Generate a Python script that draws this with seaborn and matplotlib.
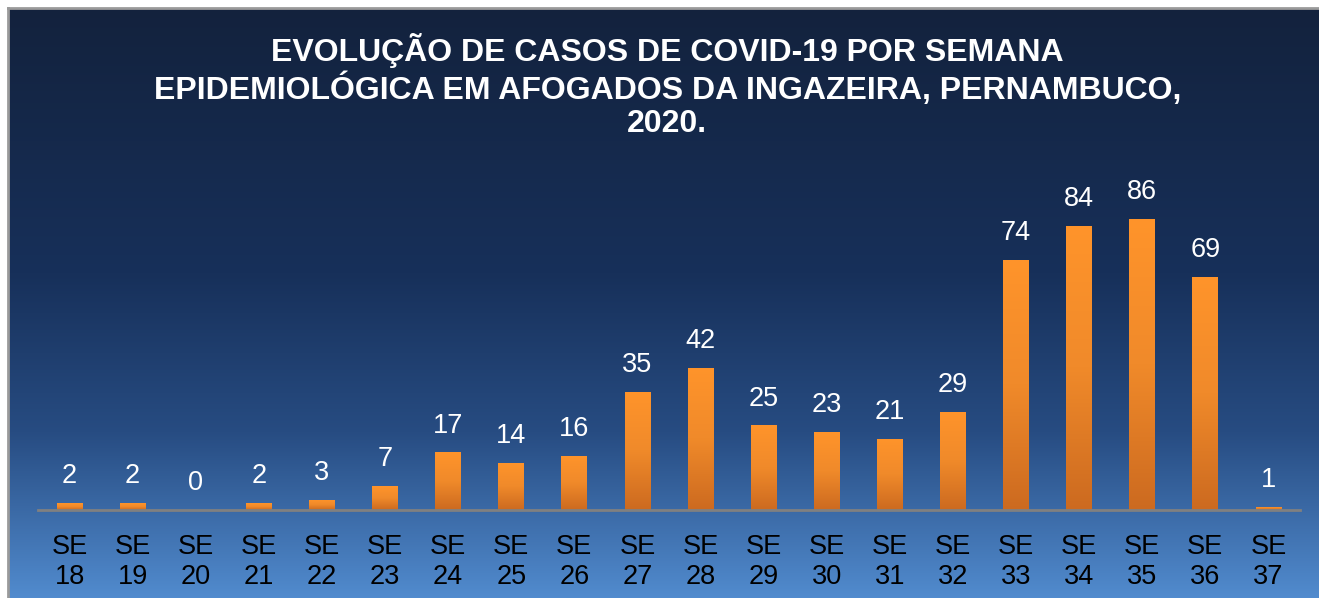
import numpy as np
import pandas as pd
import matplotlib
matplotlib.use('Agg')
import matplotlib.pyplot as plt
from matplotlib.colors import LinearSegmentedColormap
import seaborn as sns

weeks = ['18', '19', '20', '21', '22', '23', '24', '25', '26', '27',
         '28', '29', '30', '31', '32', '33', '34', '35', '36', '37']
cases = [2, 2, 0, 2, 3, 7, 17, 14, 16, 35, 42, 25, 23, 21, 29, 74, 84, 86, 69, 1]
title = 'EVOLUÇÃO DE CASOS DE COVID-19 POR SEMANA\nEPIDEMIOLÓGICA EM AFOGADOS DA INGAZEIRA, PERNAMBUCO,\n2020.'

df = pd.DataFrame({'semana': ['SE\n' + w for w in weeks], 'casos': cases})

sns.set_style('white')
plt.rcParams['font.family'] = ['Liberation Sans', 'DejaVu Sans']

W, H = 1319, 598
fig = plt.figure(figsize=(W / 100, H / 100), dpi=100)
fig.patch.set_facecolor('white')

# background panel with vertical gradient
bg = fig.add_axes([8 / W, 0, 1 - 8 / W, 1 - 8 / H], zorder=0)
bg_cmap = LinearSegmentedColormap.from_list(
    'bg', [(0, '#13223d'), (0.45, '#17305a'), (0.72, '#274c82'), (1, '#518bce')])
grad = np.linspace(0, 1, 256).reshape(-1, 1)
bg.imshow(grad, cmap=bg_cmap, aspect='auto', extent=[0, 1, 0, 1], origin='upper')
bg.set_xlim(0, 1)
bg.set_ylim(0, 1)
bg.set_xticks([])
bg.set_yticks([])
for s in ['right', 'bottom']:
    bg.spines[s].set_visible(False)
for s in ['top', 'left']:
    bg.spines[s].set_color('#9a9a9a')
    bg.spines[s].set_linewidth(2)

ax = fig.add_axes([38 / W, 1 - 510 / H, (1300 - 38) / W, (510 - 171.6) / H], zorder=1)
ax.patch.set_alpha(0)
sns.barplot(data=df, x='semana', y='casos', color='#f28a2a', width=0.41,
            saturation=1, linewidth=0, edgecolor='none', ax=ax)

# orange vertical gradient inside each bar
bar_cmap = LinearSegmentedColormap.from_list('bar', ['#ff942b', '#f08a2a', '#cc6a20'])
for p in ax.patches:
    x0, w, h = p.get_x(), p.get_width(), p.get_height()
    if h <= 0:
        continue
    im = ax.imshow(grad, cmap=bar_cmap, aspect='auto', origin='upper',
                   extent=[x0, x0 + w, 0, h], zorder=2)
    im.set_clip_path(p)

for i, v in enumerate(cases):
    ax.annotate(str(v), (i, v), xytext=(0, 10), textcoords='offset points',
                ha='center', va='bottom', color='white', fontsize=19.5)

ax.set_xlim(-0.5, len(weeks) - 0.5)
ax.set_ylim(0, 100)
ax.set_xlabel('')
ax.set_ylabel('')
ax.set_yticks([])
ax.tick_params(axis='x', length=0, pad=17, labelsize=19.5, labelcolor='black')
for lab in ax.get_xticklabels():
    lab.set_linespacing(1.2)
for s in ['top', 'right', 'left']:
    ax.spines[s].set_visible(False)
ax.spines['bottom'].set_color('#808080')
ax.spines['bottom'].set_linewidth(2)

fig.text(0.506, 1 - 86 / H, title, ha='center', va='center', color='white',
         fontsize=23, fontweight='bold', linespacing=1.17)

fig.savefig('out.png', dpi=100)
